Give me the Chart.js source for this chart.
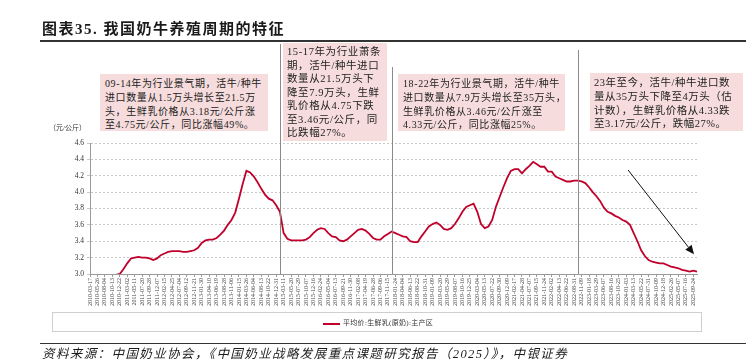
<!DOCTYPE html>
<html><head><meta charset="utf-8">
<script src="https://cdn.jsdelivr.net/npm/chart.js@4.4.1/dist/chart.umd.min.js"></script>
<style>
html,body{margin:0;padding:0;background:#fff;}
#wrap{position:relative;width:752px;height:364px;overflow:hidden;font-family:"Liberation Serif","Noto Sans CJK SC",serif;color:#1a1a1a;}
#c{position:absolute;left:0;top:0;}
.t{position:absolute;white-space:nowrap;}
.box{position:absolute;background:#f6dcdc;white-space:nowrap;box-sizing:border-box;color:#222;}
.rule{position:absolute;background:#333;}
</style></head><body>
<div id="wrap">
<canvas id="c" width="752" height="364"></canvas>
<div class="t" style="left:42px;top:20px;font-size:15px;font-weight:bold;letter-spacing:1.5px;line-height:18px;">图表35. 我国奶牛养殖周期的特征</div>
<div class="rule" style="left:40px;top:40px;width:706px;height:1.5px;"></div>

<div class="box" style="left:100px;top:74px;width:168px;height:57px;padding:3px 0 0 5px;font-size:10px;letter-spacing:0.6px;line-height:13.8px;">09-14年为行业景气期，活牛/种牛<br>进口数量从1.5万头增长至21.5万<br>头，生鲜乳价格从3.18元/公斤涨<br>至4.75元/公斤，同比涨幅49%。</div>

<div class="box" style="left:283px;top:43px;width:104px;height:98px;padding:2px 0 0 4px;font-size:10.5px;letter-spacing:0.6px;line-height:13.5px;">15-17年为行业萧条<br>期，活牛/种牛进口<br>数量从21.5万头下<br>降至7.9万头，生鲜<br>乳价格从4.75下跌<br>至3.46元/公斤，同<br>比跌幅27%。</div>

<div class="box" style="left:398px;top:74px;width:167px;height:57px;padding:3px 0 0 5px;font-size:10px;letter-spacing:0.6px;line-height:13.8px;">18-22年为行业景气期，活牛/种牛<br>进口数量从7.9万头增长至35万头，<br>生鲜乳价格从3.46元/公斤涨至<br>4.33元/公斤，同比涨幅25%。</div>

<div class="box" style="left:590px;top:73px;width:153px;height:58px;padding:3px 0 0 4px;font-size:10.5px;letter-spacing:0.5px;line-height:13.8px;">23年至今，活牛/种牛进口数<br>量从35万头下降至4万头（估<br>计数），生鲜乳价格从4.33跌<br>至3.17元/公斤，跌幅27%。</div>

<div class="t" style="left:49px;top:124px;font-size:7px;color:#333;line-height:9px;">（元/公斤）</div>

<div style="position:absolute;left:52px;top:312px;width:650px;height:20px;border:1px solid #cfcfcf;box-sizing:border-box;"></div>
<div style="position:absolute;left:323px;top:323px;width:17px;height:2px;background:#c0002a;"></div>
<div class="t" id="legendText" style="left:343px;top:319px;font-size:7px;letter-spacing:0.3px;line-height:9px;color:#333;"></div>

<div class="rule" style="left:40px;top:343px;width:706px;height:1px;"></div>
<div class="t" style="left:42px;top:346px;font-size:12.5px;font-style:italic;letter-spacing:1.4px;line-height:16px;">资料来源：中国奶业协会，《中国奶业战略发展重点课题研究报告（2025）》，中银证券</div>
</div>
<script>
const seriesName = '平均价:生鲜乳(原奶):主产区';
const tickDates = [
'2010-03-17','2010-05-26','2010-08-04','2010-10-13','2010-12-22',
'2011-03-02','2011-05-11','2011-07-20','2011-09-28','2011-12-07',
'2012-02-15','2012-04-25','2012-07-04','2012-09-12','2012-11-21',
'2013-01-30','2013-04-10','2013-06-19','2013-08-28','2013-11-06',
'2014-01-15','2014-03-26','2014-06-04','2014-08-13','2014-10-22','2014-12-31',
'2015-03-11','2015-05-20','2015-07-29','2015-10-07','2015-12-16',
'2016-02-24','2016-05-04','2016-07-13','2016-09-21','2016-11-30',
'2017-02-08','2017-04-19','2017-06-28','2017-09-06','2017-11-15',
'2018-01-24','2018-04-04','2018-06-13','2018-08-22','2018-10-31',
'2019-01-09','2019-03-20','2019-05-29','2019-08-07','2019-10-16','2019-12-25',
'2020-03-04','2020-05-13','2020-07-22','2020-09-30','2020-12-09',
'2021-02-17','2021-04-28','2021-07-07','2021-09-15','2021-11-24',
'2022-02-02','2022-04-13','2022-06-22','2022-08-31','2022-11-09',
'2023-01-18','2023-03-29','2023-06-07','2023-08-16','2023-10-25',
'2024-01-03','2024-03-13','2024-05-22','2024-07-31','2024-10-09','2024-12-18',
'2025-02-26','2025-05-07','2025-07-16','2025-09-24'
];
const priceValues = [
2.92,2.93,2.93,2.94,2.95,2.96,2.97,2.99,
3.00,3.06,3.13,3.19,
3.20,3.21,3.20,3.20,3.19,3.17,3.19,
3.23,3.25,3.27,3.28,3.28,3.28,3.27,3.27,3.28,3.29,
3.32,3.38,3.41,3.42,3.42,3.44,
3.48,3.53,3.60,3.66,3.75,3.92,4.10,4.26,
4.24,4.19,4.12,4.04,3.97,3.92,3.90,3.84,3.76,
3.50,3.43,3.41,3.41,3.41,3.41,
3.42,3.45,3.50,3.54,3.56,3.55,3.50,3.46,3.45,3.41,3.40,3.42,3.46,3.50,3.54,3.55,3.53,3.49,3.44,3.42,
3.42,3.46,3.49,3.52,3.50,3.48,3.46,3.45,3.40,3.39,3.39,3.46,3.52,3.58,3.61,3.63,3.60,3.55,3.54,3.56,
3.61,3.68,3.76,3.82,3.84,3.86,3.76,3.61,3.56,3.58,3.66,3.82,3.94,4.06,4.17,4.26,4.28,4.28,4.23,4.28,
4.32,4.37,4.34,4.31,4.31,4.25,4.25,4.19,4.17,4.15,4.13,4.13,4.14,4.14,4.13,4.11,4.06,4.00,3.95,3.89,
3.81,3.76,3.74,3.71,3.69,3.66,3.64,3.60,3.50,3.40,3.29,3.22,3.17,3.15,3.14,3.13,3.13,3.11,3.09,3.08,
3.07,3.05,3.04,3.03,3.04,3.03
];
const yMin = 3.0, yMax = 4.6, yStep = 0.2;
const cycleBreakIdx = [51, 81, 131];
const cycleBreakTop = [44, 67, 50];
const arrowFrom = [144.5, 4.27];
const arrowTo = [162.2, 3.24];

document.getElementById('legendText').textContent = seriesName;
const labels = priceValues.map((_, i) => i % 2 === 0 ? tickDates[i / 2] : '');

const overlay = {
  id: 'overlay',
  afterDatasetsDraw(chart) {
    const ctx = chart.ctx, x = chart.scales.x, y = chart.scales.y;
    ctx.save();
    ctx.strokeStyle = '#8a8a8a';
    ctx.lineWidth = 1;
    cycleBreakIdx.forEach((idx, k) => {
      const px = Math.round(x.getPixelForValue(idx)) + 0.5;
      ctx.beginPath();
      ctx.moveTo(px, cycleBreakTop[k]);
      ctx.lineTo(px, chart.chartArea.bottom);
      ctx.stroke();
    });
    const x1 = x.getPixelForValue(arrowFrom[0]), y1 = y.getPixelForValue(arrowFrom[1]);
    const x2 = x.getPixelForValue(arrowTo[0]), y2 = y.getPixelForValue(arrowTo[1]);
    const ang = Math.atan2(y2 - y1, x2 - x1);
    const L = 9, W = 4;
    ctx.strokeStyle = '#111';
    ctx.fillStyle = '#111';
    ctx.beginPath();
    ctx.moveTo(x1, y1);
    ctx.lineTo(x2 - L * Math.cos(ang), y2 - L * Math.sin(ang));
    ctx.stroke();
    ctx.beginPath();
    ctx.moveTo(x2, y2);
    ctx.lineTo(x2 - L * Math.cos(ang) + W * Math.sin(ang), y2 - L * Math.sin(ang) - W * Math.cos(ang));
    ctx.lineTo(x2 - L * Math.cos(ang) - W * Math.sin(ang), y2 - L * Math.sin(ang) + W * Math.cos(ang));
    ctx.closePath();
    ctx.fill();
    ctx.restore();
  }
};

new Chart(document.getElementById('c'), {
  type: 'line',
  data: {
    labels: labels,
    datasets: [{
      label: seriesName,
      data: priceValues,
      borderColor: '#c0002a',
      borderWidth: 1.8,
      pointRadius: 0,
      tension: 0,
      fill: false
    }]
  },
  options: {
    responsive: false,
    animation: false,
    events: [],
    layout: { padding: { left: 55, right: 55, top: 143, bottom: 50 } },
    plugins: { legend: { display: false }, tooltip: { enabled: false } },
    scales: {
      x: {
        type: 'category',
        offset: false,
        afterFit(s) { s.height = 40; },
        grid: {
          drawOnChartArea: false,
          drawTicks: true,
          tickLength: 3,
          color: (c) => (c.index % 2 === 0 ? '#9a9a9a' : 'rgba(0,0,0,0)')
        },
        border: { color: '#9a9a9a', width: 1 },
        ticks: {
          autoSkip: false,
          minRotation: 90,
          maxRotation: 90,
          padding: 1,
          color: '#444',
          font: { family: 'Liberation Serif', size: 6 }
        }
      },
      y: {
        min: yMin,
        max: yMax,
        afterFit(s) { s.width = 35; },
        grid: { color: '#c8c8c8', tickLength: 3, drawTicks: true, borderDash: [2, 2] },
        border: { color: '#9a9a9a', width: 1, dash: [2, 2] },
        ticks: {
          stepSize: yStep,
          padding: 3,
          color: '#333',
          font: { family: 'Liberation Serif', size: 7.5 },
          callback: (v) => Number(v).toFixed(1)
        }
      }
    }
  },
  plugins: [overlay]
});
</script>
</body></html>
